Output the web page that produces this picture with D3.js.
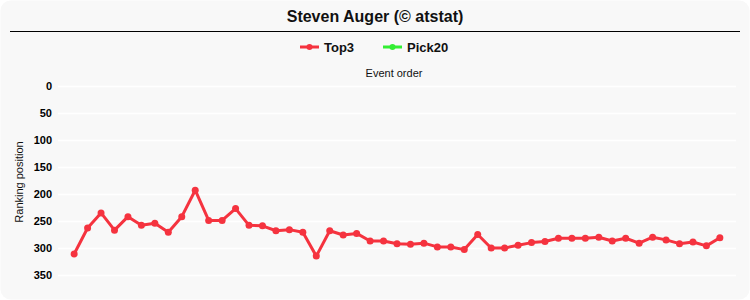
<!DOCTYPE html>
<html>
<head>
<meta charset="utf-8">
<script src="https://cdn.jsdelivr.net/npm/d3@7"></script>
<style>
  body { margin: 0; background: #fff; }
  svg { display: block; font-family: Arial, "Liberation Sans", sans-serif; }
</style>
</head>
<body>
<div id="chart"></div>
<script>
var title = "Steven Auger (\u00a9 atstat)";
var seriesNames = ["Top3", "Pick20"];
var seriesColors = ["#f5333f", "#33ee33"];
var yTicks = [0, 50, 100, 150, 200, 250, 300, 350];

// ranking position per event, in event order
var top3 = [311, 263, 235, 267, 242, 258, 254, 271, 242, 193,
            249, 249, 227, 258, 259, 268, 266, 271, 315, 268,
            276, 273, 287, 287, 292, 293, 291, 298, 298, 303,
            275, 300, 300, 295, 290, 288, 282, 282, 282, 280,
            287, 282, 291, 280, 285, 292, 289, 296, 281];

var width = 750;
var height = 300;

var svg = d3.select("#chart").append("svg")
    .attr("width", width)
    .attr("height", height);

svg.append("rect")
    .attr("x", 0.5).attr("y", 0.5)
    .attr("width", width - 1).attr("height", height - 1)
    .attr("rx", 10)
    .attr("fill", "#f8f8f8");

svg.append("text")
    .attr("x", width / 2).attr("y", 22)
    .attr("text-anchor", "middle")
    .attr("font-size", 16).attr("font-weight", "bold")
    .attr("fill", "#111")
    .text(title);

svg.append("line")
    .attr("x1", 10).attr("x2", 740)
    .attr("y1", 31.5).attr("y2", 31.5)
    .attr("stroke", "#000").attr("stroke-width", 1.2);

// legend
var legendX = [300, 383];
var legend = svg.append("g").selectAll("g")
    .data(seriesNames).enter().append("g")
    .attr("transform", function(d, i) { return "translate(" + legendX[i] + ",47)"; });
legend.append("line")
    .attr("x1", 0).attr("x2", 19)
    .attr("stroke", function(d, i) { return seriesColors[i]; })
    .attr("stroke-width", 3);
legend.append("circle")
    .attr("cx", 9.5).attr("r", 3)
    .attr("fill", function(d, i) { return seriesColors[i]; });
legend.append("text")
    .attr("x", 24).attr("dy", "0.35em")
    .attr("font-size", 13).attr("font-weight", "bold")
    .attr("fill", "#111")
    .text(function(d) { return d; });

var margin = { left: 58, right: 14, top: 86, bottom: 10 };
var plotRight = width - margin.right;

svg.append("text")
    .attr("x", 394).attr("y", 77)
    .attr("text-anchor", "middle")
    .attr("font-size", 11)
    .attr("fill", "#111")
    .text("Event order");

svg.append("text")
    .attr("transform", "translate(23,182) rotate(-90)")
    .attr("text-anchor", "middle")
    .attr("font-size", 11)
    .attr("fill", "#111")
    .text("Ranking position");

var x = d3.scalePoint()
    .domain(d3.range(top3.length))
    .range([margin.left, plotRight])
    .padding(1.2);

var y = d3.scaleLinear()
    .domain([0, 350])
    .range([86, 275]);

var yAxis = d3.axisLeft(y)
    .tickValues(yTicks)
    .tickSize(-(plotRight - margin.left))
    .tickPadding(6);

var gy = svg.append("g")
    .attr("transform", "translate(" + margin.left + ",0)")
    .call(yAxis);
gy.select(".domain").remove();
gy.selectAll(".tick line").attr("stroke", "#ffffff").attr("stroke-width", 1.5);
gy.selectAll(".tick text")
    .attr("font-size", 11).attr("font-weight", "bold")
    .attr("fill", "#000")
    .attr("font-family", "Arial, 'Liberation Sans', sans-serif");

var line = d3.line()
    .x(function(d, i) { return x(i); })
    .y(function(d) { return y(d); });

svg.append("path")
    .attr("d", line(top3))
    .attr("fill", "none")
    .attr("stroke", seriesColors[0])
    .attr("stroke-width", 3)
    .attr("stroke-linejoin", "round");

svg.append("g").selectAll("circle")
    .data(top3).enter().append("circle")
    .attr("cx", function(d, i) { return x(i); })
    .attr("cy", function(d) { return y(d); })
    .attr("r", 3.5)
    .attr("fill", seriesColors[0]);
</script>
</body>
</html>
